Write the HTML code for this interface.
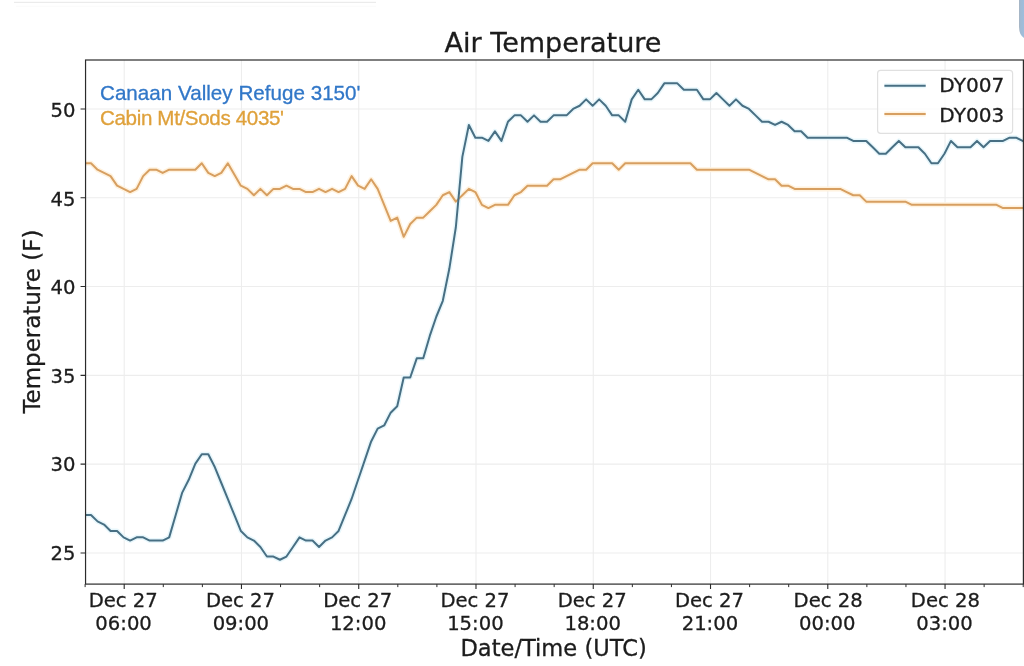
<!DOCTYPE html>
<html lang="en"><head><meta charset="utf-8"><title>Air Temperature</title>
<style>
html,body{margin:0;padding:0;background:#fff;}
body{width:1024px;height:666px;overflow:hidden;position:relative;}
svg{display:block;position:absolute;left:0;top:0;}
text{font-family:"DejaVu Sans","Liberation Sans",sans-serif;fill:#1c1c1c;stroke:#1c1c1c;stroke-width:0.3px;}
.tk{font-size:19.6px;}
.lb{font-size:22.1px;}
.tt{font-size:26.5px;}
.lg{font-size:20.1px;}
.ov{font-family:"Liberation Sans",sans-serif;font-size:20.6px;}
</style></head><body>
<svg width="1024" height="666" viewBox="0 0 1024 666">
<rect x="0" y="0" width="1024" height="666" fill="#ffffff"/>

<rect x="14" y="1.8" width="362" height="1.2" fill="#ebebeb"/>
<rect x="16" y="5.8" width="360" height="1" fill="#fafafa"/>
<defs><linearGradient id="tg" x1="0" y1="0" x2="1" y2="0"><stop offset="0" stop-color="#a8b4c0"/><stop offset="0.3" stop-color="#a1bad3"/><stop offset="1" stop-color="#9dbedd"/></linearGradient></defs>
<path d="M1019,0 L1024,0 L1024,38 Q1019.2,35 1019,27 Z" fill="url(#tg)"/>
<path d="M124.20,60.0 V584.1 M241.46,60.0 V584.1 M358.73,60.0 V584.1 M475.99,60.0 V584.1 M593.26,60.0 V584.1 M710.52,60.0 V584.1 M827.79,60.0 V584.1 M945.05,60.0 V584.1 M85.55,108.95 H1023.40 M85.55,197.75 H1023.40 M85.55,286.55 H1023.40 M85.55,375.35 H1023.40 M85.55,464.15 H1023.40 M85.55,552.95 H1023.40" stroke="#ededed" stroke-width="1.1" fill="none"/>
<clipPath id="cp"><rect x="85.55" y="60.0" width="937.85" height="524.1"/></clipPath>
<g clip-path="url(#cp)" fill="none" stroke-linejoin="round" stroke-linecap="butt">
<path d="M84.50,163.30 L91.01,163.30 L97.53,169.69 L104.04,172.89 L110.56,176.09 L117.07,185.68 L123.59,188.88 L130.10,192.07 L136.62,188.88 L143.13,176.09 L149.65,169.69 L156.16,169.69 L162.68,172.89 L169.19,169.69 L175.71,169.69 L182.22,169.69 L188.74,169.69 L195.25,169.69 L201.76,163.30 L208.28,172.89 L214.79,176.09 L221.31,172.89 L227.82,163.30 L234.34,174.49 L240.85,185.68 L247.37,188.88 L253.88,195.27 L260.40,188.88 L266.91,195.27 L273.43,188.88 L279.94,188.88 L286.46,185.68 L292.97,188.88 L299.49,188.88 L306.00,192.07 L312.51,192.07 L319.03,188.88 L325.54,192.07 L332.06,188.88 L338.57,192.07 L345.09,188.88 L351.60,176.09 L358.12,185.68 L364.63,188.88 L371.15,179.28 L377.66,188.88 L384.18,204.86 L390.69,220.84 L397.21,217.65 L403.72,236.83 L410.24,224.04 L416.75,217.65 L423.26,217.65 L429.78,211.25 L436.29,204.86 L442.81,195.27 L449.32,192.07 L455.84,201.66 L462.35,195.27 L468.87,188.88 L475.38,192.07 L481.90,204.86 L488.41,208.06 L494.93,204.86 L501.44,204.86 L507.96,204.86 L514.47,195.27 L520.98,192.07 L527.50,185.68 L534.01,185.68 L540.53,185.68 L547.04,185.68 L553.56,179.28 L560.07,179.28 L566.59,176.09 L573.10,172.89 L579.62,169.69 L586.13,169.69 L592.65,163.30 L599.16,163.30 L605.68,163.30 L612.19,163.30 L618.71,169.69 L625.22,163.30 L631.73,163.30 L638.25,163.30 L644.76,163.30 L651.28,163.30 L657.79,163.30 L664.31,163.30 L670.82,163.30 L677.34,163.30 L683.85,163.30 L690.37,163.30 L696.88,169.69 L703.40,169.69 L709.91,169.69 L716.43,169.69 L722.94,169.69 L729.46,169.69 L735.97,169.69 L742.48,169.69 L749.00,169.69 L755.51,172.89 L762.03,176.09 L768.54,179.28 L775.06,179.28 L781.57,185.68 L788.09,185.68 L794.60,188.88 L801.12,188.88 L807.63,188.88 L814.15,188.88 L820.66,188.88 L827.18,188.88 L833.69,188.88 L840.21,188.88 L846.72,192.07 L853.23,195.27 L859.75,195.27 L866.26,201.66 L872.78,201.66 L879.29,201.66 L885.81,201.66 L892.32,201.66 L898.84,201.66 L905.35,201.66 L911.87,204.86 L918.38,204.86 L924.90,204.86 L931.41,204.86 L937.93,204.86 L944.44,204.86 L950.96,204.86 L957.47,204.86 L963.98,204.86 L970.50,204.86 L977.01,204.86 L983.53,204.86 L990.04,204.86 L996.56,204.86 L1003.07,208.06 L1009.59,208.06 L1016.10,208.06 L1022.62,208.06 L1029.13,208.06" stroke="#fff2de" stroke-width="5"/>
<path d="M84.50,514.97 L91.01,514.97 L97.53,521.36 L104.04,524.56 L110.56,530.95 L117.07,530.95 L123.59,537.35 L130.10,540.55 L136.62,537.35 L143.13,537.35 L149.65,540.55 L156.16,540.55 L162.68,540.55 L169.19,537.35 L175.71,514.97 L182.22,492.59 L188.74,479.80 L195.25,463.82 L201.76,454.23 L208.28,454.23 L214.79,467.01 L221.31,483.00 L227.82,498.98 L234.34,514.97 L240.85,530.95 L247.37,537.35 L253.88,540.55 L260.40,546.94 L266.91,556.53 L273.43,556.53 L279.94,559.73 L286.46,556.53 L292.97,546.94 L299.49,537.35 L306.00,540.55 L312.51,540.55 L319.03,546.94 L325.54,540.55 L332.06,537.35 L338.57,530.95 L345.09,514.97 L351.60,498.98 L358.12,479.80 L364.63,460.62 L371.15,441.44 L377.66,428.65 L384.18,425.45 L390.69,412.67 L397.21,406.27 L403.72,377.50 L410.24,377.50 L416.75,358.32 L423.26,358.32 L429.78,335.94 L436.29,316.75 L442.81,300.77 L449.32,268.80 L455.84,227.24 L462.35,156.91 L468.87,124.94 L475.38,137.72 L481.90,137.72 L488.41,140.92 L494.93,131.33 L501.44,140.92 L507.96,121.74 L514.47,115.34 L520.98,115.34 L527.50,121.74 L534.01,115.34 L540.53,121.74 L547.04,121.74 L553.56,115.34 L560.07,115.34 L566.59,115.34 L573.10,108.95 L579.62,105.75 L586.13,99.36 L592.65,105.75 L599.16,99.36 L605.68,105.75 L612.19,115.34 L618.71,115.34 L625.22,121.74 L631.73,99.36 L638.25,89.77 L644.76,99.36 L651.28,99.36 L657.79,92.97 L664.31,83.37 L670.82,83.37 L677.34,83.37 L683.85,89.77 L690.37,89.77 L696.88,89.77 L703.40,99.36 L709.91,99.36 L716.43,92.97 L722.94,99.36 L729.46,105.75 L735.97,99.36 L742.48,105.75 L749.00,108.95 L755.51,115.34 L762.03,121.74 L768.54,121.74 L775.06,124.94 L781.57,121.74 L788.09,124.94 L794.60,131.33 L801.12,131.33 L807.63,137.72 L814.15,137.72 L820.66,137.72 L827.18,137.72 L833.69,137.72 L840.21,137.72 L846.72,137.72 L853.23,140.92 L859.75,140.92 L866.26,140.92 L872.78,147.31 L879.29,153.71 L885.81,153.71 L892.32,147.31 L898.84,140.92 L905.35,147.31 L911.87,147.31 L918.38,147.31 L924.90,153.71 L931.41,163.30 L937.93,163.30 L944.44,153.71 L950.96,140.92 L957.47,147.31 L963.98,147.31 L970.50,147.31 L977.01,140.92 L983.53,147.31 L990.04,140.92 L996.56,140.92 L1003.07,140.92 L1009.59,137.72 L1016.10,137.72 L1022.62,140.92 L1029.13,140.92" stroke="#e8f7fc" stroke-width="5"/>
<path d="M84.50,163.30 L91.01,163.30 L97.53,169.69 L104.04,172.89 L110.56,176.09 L117.07,185.68 L123.59,188.88 L130.10,192.07 L136.62,188.88 L143.13,176.09 L149.65,169.69 L156.16,169.69 L162.68,172.89 L169.19,169.69 L175.71,169.69 L182.22,169.69 L188.74,169.69 L195.25,169.69 L201.76,163.30 L208.28,172.89 L214.79,176.09 L221.31,172.89 L227.82,163.30 L234.34,174.49 L240.85,185.68 L247.37,188.88 L253.88,195.27 L260.40,188.88 L266.91,195.27 L273.43,188.88 L279.94,188.88 L286.46,185.68 L292.97,188.88 L299.49,188.88 L306.00,192.07 L312.51,192.07 L319.03,188.88 L325.54,192.07 L332.06,188.88 L338.57,192.07 L345.09,188.88 L351.60,176.09 L358.12,185.68 L364.63,188.88 L371.15,179.28 L377.66,188.88 L384.18,204.86 L390.69,220.84 L397.21,217.65 L403.72,236.83 L410.24,224.04 L416.75,217.65 L423.26,217.65 L429.78,211.25 L436.29,204.86 L442.81,195.27 L449.32,192.07 L455.84,201.66 L462.35,195.27 L468.87,188.88 L475.38,192.07 L481.90,204.86 L488.41,208.06 L494.93,204.86 L501.44,204.86 L507.96,204.86 L514.47,195.27 L520.98,192.07 L527.50,185.68 L534.01,185.68 L540.53,185.68 L547.04,185.68 L553.56,179.28 L560.07,179.28 L566.59,176.09 L573.10,172.89 L579.62,169.69 L586.13,169.69 L592.65,163.30 L599.16,163.30 L605.68,163.30 L612.19,163.30 L618.71,169.69 L625.22,163.30 L631.73,163.30 L638.25,163.30 L644.76,163.30 L651.28,163.30 L657.79,163.30 L664.31,163.30 L670.82,163.30 L677.34,163.30 L683.85,163.30 L690.37,163.30 L696.88,169.69 L703.40,169.69 L709.91,169.69 L716.43,169.69 L722.94,169.69 L729.46,169.69 L735.97,169.69 L742.48,169.69 L749.00,169.69 L755.51,172.89 L762.03,176.09 L768.54,179.28 L775.06,179.28 L781.57,185.68 L788.09,185.68 L794.60,188.88 L801.12,188.88 L807.63,188.88 L814.15,188.88 L820.66,188.88 L827.18,188.88 L833.69,188.88 L840.21,188.88 L846.72,192.07 L853.23,195.27 L859.75,195.27 L866.26,201.66 L872.78,201.66 L879.29,201.66 L885.81,201.66 L892.32,201.66 L898.84,201.66 L905.35,201.66 L911.87,204.86 L918.38,204.86 L924.90,204.86 L931.41,204.86 L937.93,204.86 L944.44,204.86 L950.96,204.86 L957.47,204.86 L963.98,204.86 L970.50,204.86 L977.01,204.86 L983.53,204.86 L990.04,204.86 L996.56,204.86 L1003.07,208.06 L1009.59,208.06 L1016.10,208.06 L1022.62,208.06 L1029.13,208.06" stroke="#d79f61" stroke-width="2"/>
<path d="M84.50,514.97 L91.01,514.97 L97.53,521.36 L104.04,524.56 L110.56,530.95 L117.07,530.95 L123.59,537.35 L130.10,540.55 L136.62,537.35 L143.13,537.35 L149.65,540.55 L156.16,540.55 L162.68,540.55 L169.19,537.35 L175.71,514.97 L182.22,492.59 L188.74,479.80 L195.25,463.82 L201.76,454.23 L208.28,454.23 L214.79,467.01 L221.31,483.00 L227.82,498.98 L234.34,514.97 L240.85,530.95 L247.37,537.35 L253.88,540.55 L260.40,546.94 L266.91,556.53 L273.43,556.53 L279.94,559.73 L286.46,556.53 L292.97,546.94 L299.49,537.35 L306.00,540.55 L312.51,540.55 L319.03,546.94 L325.54,540.55 L332.06,537.35 L338.57,530.95 L345.09,514.97 L351.60,498.98 L358.12,479.80 L364.63,460.62 L371.15,441.44 L377.66,428.65 L384.18,425.45 L390.69,412.67 L397.21,406.27 L403.72,377.50 L410.24,377.50 L416.75,358.32 L423.26,358.32 L429.78,335.94 L436.29,316.75 L442.81,300.77 L449.32,268.80 L455.84,227.24 L462.35,156.91 L468.87,124.94 L475.38,137.72 L481.90,137.72 L488.41,140.92 L494.93,131.33 L501.44,140.92 L507.96,121.74 L514.47,115.34 L520.98,115.34 L527.50,121.74 L534.01,115.34 L540.53,121.74 L547.04,121.74 L553.56,115.34 L560.07,115.34 L566.59,115.34 L573.10,108.95 L579.62,105.75 L586.13,99.36 L592.65,105.75 L599.16,99.36 L605.68,105.75 L612.19,115.34 L618.71,115.34 L625.22,121.74 L631.73,99.36 L638.25,89.77 L644.76,99.36 L651.28,99.36 L657.79,92.97 L664.31,83.37 L670.82,83.37 L677.34,83.37 L683.85,89.77 L690.37,89.77 L696.88,89.77 L703.40,99.36 L709.91,99.36 L716.43,92.97 L722.94,99.36 L729.46,105.75 L735.97,99.36 L742.48,105.75 L749.00,108.95 L755.51,115.34 L762.03,121.74 L768.54,121.74 L775.06,124.94 L781.57,121.74 L788.09,124.94 L794.60,131.33 L801.12,131.33 L807.63,137.72 L814.15,137.72 L820.66,137.72 L827.18,137.72 L833.69,137.72 L840.21,137.72 L846.72,137.72 L853.23,140.92 L859.75,140.92 L866.26,140.92 L872.78,147.31 L879.29,153.71 L885.81,153.71 L892.32,147.31 L898.84,140.92 L905.35,147.31 L911.87,147.31 L918.38,147.31 L924.90,153.71 L931.41,163.30 L937.93,163.30 L944.44,153.71 L950.96,140.92 L957.47,147.31 L963.98,147.31 L970.50,147.31 L977.01,140.92 L983.53,147.31 L990.04,140.92 L996.56,140.92 L1003.07,140.92 L1009.59,137.72 L1016.10,137.72 L1022.62,140.92 L1029.13,140.92" stroke="#486f83" stroke-width="2"/>
</g>
<path d="M124.20,584.1 v5 M241.46,584.1 v5 M358.73,584.1 v5 M475.99,584.1 v5 M593.26,584.1 v5 M710.52,584.1 v5 M827.79,584.1 v5 M945.05,584.1 v5 M85.55,108.95 h-5 M85.55,197.75 h-5 M85.55,286.55 h-5 M85.55,375.35 h-5 M85.55,464.15 h-5 M85.55,552.95 h-5" stroke="#2b2b2b" stroke-width="1.1" fill="none"/>
<path d="M85.11,584.1 v3 M163.29,584.1 v3 M202.38,584.1 v3 M280.55,584.1 v3 M319.64,584.1 v3 M397.82,584.1 v3 M436.90,584.1 v3 M515.08,584.1 v3 M554.17,584.1 v3 M632.35,584.1 v3 M671.43,584.1 v3 M749.61,584.1 v3 M788.70,584.1 v3 M866.87,584.1 v3 M905.96,584.1 v3 M984.14,584.1 v3 M1023.23,584.1 v3" stroke="#2b2b2b" stroke-width="1" fill="none"/>
<rect x="85.55" y="60.0" width="937.85" height="524.1" fill="none" stroke="#2b2b2b" stroke-width="1.2"/>
<text class="tk" x="75.4" y="116.80" text-anchor="end">50</text>
<text class="tk" x="75.4" y="205.60" text-anchor="end">45</text>
<text class="tk" x="75.4" y="294.40" text-anchor="end">40</text>
<text class="tk" x="75.4" y="382.50" text-anchor="end">35</text>
<text class="tk" x="75.4" y="471.30" text-anchor="end">30</text>
<text class="tk" x="75.4" y="559.90" text-anchor="end">25</text>
<text class="tk" x="123.20" y="607" text-anchor="middle">Dec 27</text>
<text class="tk" x="123.60" y="630" text-anchor="middle">06:00</text>
<text class="tk" x="240.46" y="607" text-anchor="middle">Dec 27</text>
<text class="tk" x="240.86" y="630" text-anchor="middle">09:00</text>
<text class="tk" x="357.73" y="607" text-anchor="middle">Dec 27</text>
<text class="tk" x="358.13" y="630" text-anchor="middle">12:00</text>
<text class="tk" x="474.99" y="607" text-anchor="middle">Dec 27</text>
<text class="tk" x="475.39" y="630" text-anchor="middle">15:00</text>
<text class="tk" x="592.26" y="607" text-anchor="middle">Dec 27</text>
<text class="tk" x="592.66" y="630" text-anchor="middle">18:00</text>
<text class="tk" x="709.52" y="607" text-anchor="middle">Dec 27</text>
<text class="tk" x="709.92" y="630" text-anchor="middle">21:00</text>
<text class="tk" x="828.09" y="607" text-anchor="middle">Dec 28</text>
<text class="tk" x="827.19" y="630" text-anchor="middle">00:00</text>
<text class="tk" x="945.35" y="607" text-anchor="middle">Dec 28</text>
<text class="tk" x="944.45" y="630" text-anchor="middle">03:00</text>
<text class="tt" transform="translate(553.0,51.8) scale(1.021,1)" text-anchor="middle">Air Temperature</text>
<text class="lb" transform="translate(553.6,655.7) scale(1.022,1)" text-anchor="middle">Date/Time (UTC)</text>
<text class="lb" transform="translate(39.6,321.6) rotate(-90) scale(1.04,1)" text-anchor="middle">Temperature (F)</text>
<rect x="877.6" y="70.3" width="135" height="63" rx="3" ry="3" fill="#ffffff" fill-opacity="0.8" stroke="#e0e0e0" stroke-width="1.2"/>
<path d="M884.4,85.8 H925.7" stroke="#e8f7fc" stroke-width="5"/>
<path d="M884.4,113.9 H925.7" stroke="#fff2de" stroke-width="5"/>
<path d="M884.4,85.8 H925.7" stroke="#486f83" stroke-width="2"/>
<path d="M884.4,113.9 H925.7" stroke="#d79f61" stroke-width="2"/>
<text class="lg" x="939.3" y="92.4">DY007</text>
<text class="lg" x="939.3" y="121.8">DY003</text>
<text class="ov" x="100" y="100.4" textLength="260.5" lengthAdjust="spacing" style="fill:#3177c8;stroke:#3177c8;stroke-width:0.3px">Canaan Valley Refuge 3150'</text>
<text class="ov" x="100" y="124.8" textLength="184" lengthAdjust="spacing" style="fill:#dfa13b;stroke:#dfa13b;stroke-width:0.3px">Cabin Mt/Sods 4035'</text>
</svg>
</body></html>
